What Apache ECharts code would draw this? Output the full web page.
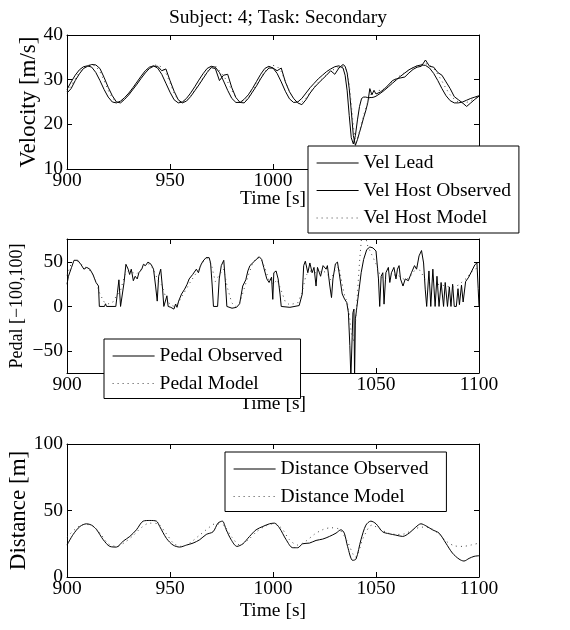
<!DOCTYPE html>
<html>
<head>
<meta charset="utf-8">
<script src="https://cdn.jsdelivr.net/npm/echarts@6/dist/echarts.min.js"></script>
<style>
html, body { margin: 0; padding: 0; background: #fff; }
#chart { width: 570px; height: 630px; }
</style>
</head>
<body>
<div id="chart"></div>
<script>
var FONT = 'Liberation Serif';

// sample times helper (x positions only)
function steps(a, b, d) { var out = []; for (var t = a; t <= b + 1e-9; t += d) out.push(t); return out; }

// ---- velocity panel ----
var tVel = steps(900, 1034, 2).concat(steps(1035, 1050, 1), steps(1052, 1100, 2));
var velLead = [
  27.8, 29.5, 31.0, 32.2, 32.9, 33.1, 32.8, 31.6, 29.8, 27.8,
  26.1, 25.0, 24.8, 25.2, 26.0, 27.0, 28.2, 29.5, 30.8, 32.0,
  32.8, 33.1, 32.6, 31.2, 29.2, 27.2, 25.5, 24.8, 25.0, 25.8,
  27.0, 28.4, 29.9, 31.3, 32.5, 33.0, 32.8, 31.6, 29.7, 27.6,
  25.8, 24.9, 24.9, 25.6, 26.6, 28.0, 29.6, 31.2, 32.5, 33.0,
  32.6, 31.4, 29.5, 27.4, 25.7, 24.9, 25.0, 25.8, 27.0, 28.2,
  29.2, 30.2, 31.0, 31.8, 32.4, 32.9, 33.1, 32.6,
  31.0, 27.5, 22.0, 17.0, 15.6, 17.5, 21.0, 24.0, 25.8, 26.1, 26.1, 26.0, 26.0, 26.0, 26.1, 26.3,
  26.9, 27.6, 28.4, 29.2, 30.0, 30.8, 31.5, 32.2, 32.7, 33.1,
  33.3, 33.2, 32.6, 31.4, 29.8, 28.0, 26.4, 25.3, 24.8, 24.8,
  25.0, 25.4, 25.8, 26.1, 26.4
];
var velHostObs = [
  27.0, 28.0, 29.8, 31.3, 32.5, 33.0, 33.4, 33.3, 32.5, 30.5,
  28.3, 26.4, 25.0, 24.8, 25.6, 26.6, 27.8, 29.0, 30.3, 31.5,
  32.5, 33.0, 33.0, 32.0, 32.4, 29.8, 27.4, 25.5, 24.8, 25.2,
  26.2, 27.5, 28.8, 30.2, 31.6, 32.7, 32.5, 29.8, 31.0, 31.2,
  28.2, 26.0, 24.9, 24.8, 25.8, 27.2, 28.6, 30.2, 31.6, 32.6,
  32.6, 32.0, 32.6, 29.5, 27.3, 25.8, 24.8, 24.4, 25.5, 27.0,
  28.2, 29.2, 30.1, 31.0, 32.0, 31.2, 32.6, 33.4,
  33.0, 31.5, 28.0, 23.0, 17.5, 15.3, 16.6, 18.2, 19.8, 21.5, 23.0, 24.8, 28.0, 26.6, 27.6, 26.8,
  27.2, 27.9, 28.8, 29.8, 30.2, 30.4, 30.6, 31.5, 32.3, 32.8,
  33.0, 34.4, 33.0, 32.8, 31.6, 31.0, 29.5, 28.0, 26.2, 25.5,
  24.8, 24.0, 24.8, 25.6, 26.3
];
var velHostModel = [
  27.3, 28.6, 30.2, 31.6, 32.6, 33.2, 33.4, 33.0, 31.8, 29.8,
  27.6, 25.9, 25.0, 24.9, 25.6, 26.6, 27.9, 29.2, 30.5, 31.7,
  32.6, 33.2, 33.3, 32.8, 31.5, 29.3, 27.0, 25.4, 24.9, 25.3,
  26.3, 27.6, 29.0, 30.4, 31.8, 32.8, 33.1, 32.0, 30.8, 29.5,
  27.6, 25.9, 25.0, 25.1, 26.0, 27.4, 28.9, 30.4, 31.8, 32.8,
  33.2, 33.0, 31.8, 29.6, 27.4, 25.8, 25.0, 25.0, 25.9, 27.2,
  28.4, 29.4, 30.3, 31.1, 31.9, 32.4, 32.8, 33.0,
  32.8, 31.8, 29.0, 24.5, 19.5, 16.5, 16.8, 18.5, 20.3, 22.0, 23.6, 25.0, 26.2, 27.0, 27.4, 27.6,
  27.6, 28.0, 28.7, 29.5, 30.3, 31.0, 31.6, 32.2, 32.7, 33.1,
  33.4, 33.6, 33.3, 32.5, 31.2, 29.7, 28.0, 26.6, 25.6, 25.0,
  24.8, 24.9, 25.3, 25.8, 26.2
];

// ---- pedal panel ----
var tPedalObs = [
  900, 900.7, 902.2, 903.4, 905.2, 906.7, 908.2, 909.6, 911.1, 912.6,
  914.1, 915.3, 915.7, 918.2, 918.7, 919.2, 923.7, 924.5, 925.2, 926,
  926.7, 927.7, 928.6, 929.7, 930.4, 931.2, 932.2, 933.1, 934.1, 934.9,
  936.3, 937.1, 938.1, 939.3, 940.8, 942, 943, 943.8, 944.5, 945.5,
  946.4, 947, 947.8, 948.5, 949.1, 950.4, 951.9, 952.7, 953.4, 954.2,
  955.6, 957.1, 958.3, 959.3, 960.1, 961, 961.9, 962.8, 963.8, 964.8,
  966, 967.5, 969, 969.7, 970.5, 971.1, 973.1, 973.9, 974.9, 976.1,
  976.9, 977.6, 978.2, 980.1, 982.3, 983.8, 985.3, 986.8, 987.8, 988.8,
  991, 993.3, 994.5, 995.5, 997, 998.1, 999.3, 999.9, 1000.4, 1001.5,
  1002.5, 1003.4, 1004, 1008.2, 1012.7, 1014.2, 1014.9, 1015.7, 1016.9, 1017.9,
  1019, 1019.9, 1020.9, 1021.6, 1023.1, 1024.3, 1025.8, 1026.4, 1027.6, 1028.4,
  1029.1, 1030.3, 1031.3, 1032.1, 1033.6, 1034.8, 1035.8, 1036.6, 1037.3, 1037.8,
  1038.4, 1038.8, 1039.3, 1039.6, 1040, 1040.7, 1041.8, 1042.8, 1044, 1045.5,
  1047, 1048.5, 1050, 1051.2, 1051.8, 1052.5, 1053.3, 1053.9, 1054.8, 1056,
  1056.7, 1057.5, 1058.7, 1059.7, 1060.4, 1061.2, 1061.9, 1063.1, 1064.2, 1065.7,
  1067.2, 1068.7, 1069.7, 1070.9, 1072.1, 1073.1, 1073.9, 1074.6, 1075.7, 1076.6,
  1077.6, 1078.7, 1079.6, 1080.6, 1081.6, 1082.8, 1083.6, 1084.7, 1085.6, 1086.4,
  1087.2, 1088, 1089, 1089.8, 1090.5, 1091.5, 1092.3, 1093.5, 1095, 1096.5,
  1098, 1099, 1099.6, 1100
];
var pedalObs = [
  25, 34, 44, 52, 52, 47.5, 42, 44, 42, 36,
  27, 23, 0, 0, 3, 0, 0, 16, 30, 0,
  0, 27, 47.5, 42, 36, 42, 29, 34, 31, 38,
  42, 47.5, 46, 50, 47.5, 42, 23, 6, 34, 42,
  19.5, 0, 1, 12, 0, -1, -3, 2.6, -1, 6,
  14, 19.5, 25, 31, 29, 36, 34, 42, 38, 46,
  51, 55, 55, 49, 23, 0, 0, 31, 46, 52,
  27, 0, -1, -2, -1, 3, 23, 30, 40, 46,
  51, 56, 53, 44, 31, 27, 33, 8, 38, 40,
  31, 14, 0, -1, 1, 14, 46, 51, 38, 49,
  38, 44, 23, 44, 34, 46, 42, 46, 23, 10,
  31, 48, 50, 38, 14, 8, 4.5, -7, -44, -80,
  -80, -7, -3, -80, -14, -1, 19.5, 38, 53, 64,
  67, 66, 62.5, 31, 0, 34, 38, 2.6, 38, 44,
  27, 38, 44, 31, 42, 46, 31, 23, 31, 29,
  38, 46, 42, 57, 63, 49, 19.5, 0, 40, 0,
  42, 0, 34, 0, 27, 0, 27, 0, 22, 0,
  25, 0, 0, 20, 2, 24, 5, 28, 33, 40,
  47, 49, 20, 0
];
var tPedalModel = steps(900, 1034, 2).concat(steps(1035, 1046, 1), steps(1048, 1100, 2));
var pedalModel = [
  35, 48, 52, 50, 45, 43, 38, 28, 14, 5,
  3, 4, 12, 18, 35, 40, 38, 37, 42, 47,
  48, 42, 30, 24, 10, 2, 0, 4, 12, 20,
  28, 35, 42, 50, 54, 48, 28, 36, 42, 20,
  4, 0, 5, 20, 35, 48, 55, 54, 44, 30,
  25, 30, 18, 5, 2, 3, 4, 15, 35, 40,
  38, 38, 40, 38, 30, 40, 45, 20,
  10, 5, -8, -30, -40, -20, 15, 50, 78, 82, 78, 68,
  58, 48, 35, 30, 32, 35, 36, 33, 30, 32,
  38, 45, 38, 30, 28, 26, 25, 24, 23, 22,
  22, 24, 28, 32, 38, 42, 44
];

// ---- distance panel ----
var tDistObs = [
  900, 903, 906.3, 909.5, 911.9, 914.4, 917.6, 920.8, 924, 927.3,
  930.5, 933.7, 937, 940.2, 943.4, 945, 948.3, 951.5, 954.7, 958,
  961.2, 964.4, 967.6, 970.9, 973.3, 975.4, 977.3, 979.7, 982.5, 985.4,
  988.6, 991.8, 995.1, 998.3, 1000.7, 1003.1, 1006.4, 1009.6, 1012, 1014.4,
  1017.7, 1020.9, 1024.1, 1027.4, 1030.6, 1033, 1034.6, 1036.2, 1038.7, 1040.3,
  1042.7, 1045.1, 1047.5, 1050, 1053.2, 1056.4, 1059.6, 1062.9, 1066.1, 1069.3,
  1071.8, 1074.2, 1077.4, 1080.6, 1083.9, 1087.1, 1090.3, 1092.7, 1095.2, 1097.6,
  1100
];
var distObs = [
  24, 32, 38, 40, 39, 35.5, 28, 23, 22.5, 27,
  30.5, 35.5, 42, 42.5, 42, 38, 29, 24, 22.5, 24,
  25.5, 28, 32, 34, 40.5, 42, 35.5, 28, 23, 25,
  30.5, 35.5, 38, 40, 40.5, 37, 28, 22, 22, 25,
  25.5, 27.5, 28.5, 30.5, 33, 35.5, 33, 23, 12.5, 13.5,
  28, 39, 42, 40, 34, 32.5, 31.5, 30.5, 33, 37.5,
  40, 38.5, 35.5, 33, 25.5, 18, 13.5, 12, 14, 15.5,
  16
];
var tDistModel = steps(900, 1100, 4);
var distModel = [
  30, 36, 39.5, 39, 33, 25, 23, 26, 31, 37,
  40.5, 40, 33, 25, 23, 26, 31, 36, 40, 39,
  30, 24, 28, 34, 38, 40, 37, 28, 24, 27,
  32, 35.5, 37, 36, 27, 15, 30, 39, 36, 33,
  32, 32.5, 35.5, 37.5, 37, 33, 27, 23.5, 23, 24,
  25.5
];

function pairs(ts, vs) { return ts.map(function (t, i) { return [t, vs[i]]; }); }

var chart = echarts.init(document.getElementById('chart'));

var txt = { color: '#000', fontFamily: FONT, fontSize: 19.5 };
var grids = [
  { left: 67, top: 35, width: 412, height: 134, outerBoundsMode: 'none', containLabel: false },
  { left: 67, top: 239, width: 412, height: 134, outerBoundsMode: 'none', containLabel: false },
  { left: 67, top: 444, width: 412, height: 133, outerBoundsMode: 'none', containLabel: false }
];

function xAxis(gi, pos, nameGap) {
  var main = pos === 'bottom';
  return {
    gridIndex: gi, type: 'value', position: pos, min: 900, max: 1100, interval: 50,
    axisLine: { onZero: false, lineStyle: { color: '#000', width: 1 } },
    axisTick: { inside: true, length: 5, lineStyle: { color: '#000' } },
    splitLine: { show: false },
    axisLabel: main ? Object.assign({ margin: 2, formatter: function (v) { return String(v); } }, txt) : { show: false },
    name: main ? 'Time [s]' : '', nameLocation: 'middle', nameGap: nameGap || 0, nameMoveOverlap: false,
    nameTextStyle: txt
  };
}
function yAxis(gi, pos, min, max, interval, name, nameSize, nameGap, custom) {
  var main = pos === 'left';
  var ax = {
    gridIndex: gi, type: 'value', position: pos, min: min, max: max,
    axisLine: { onZero: false, lineStyle: { color: '#000', width: 1 } },
    axisTick: { inside: true, length: 5, lineStyle: { color: '#000' } },
    splitLine: { show: false },
    axisLabel: main ? Object.assign({ margin: 4, formatter: function (v) { return String(v).replace('-', '\u2212'); } }, txt) : { show: false },
    name: main ? name : '', nameLocation: 'middle', nameGap: nameGap || 0, nameMoveOverlap: false,
    nameTextStyle: Object.assign({}, txt, { fontSize: nameSize || 19.5 })
  };
  if (custom) {
    ax.axisTick.customValues = custom;
    if (main) ax.axisLabel.customValues = custom;
  } else {
    ax.interval = interval;
  }
  return ax;
}

function line(name, gi, data, dotted, smooth) {
  return {
    name: name, type: 'line', xAxisIndex: 2 * gi, yAxisIndex: 2 * gi,
    data: data, showSymbol: false, symbol: 'none', smooth: smooth || false, clip: true,
    lineStyle: dotted ? { color: '#444', width: 1, type: [1, 4] } : { color: '#000', width: 1 },
    itemStyle: { color: '#000' },
    animation: false
  };
}

function legend(names, left, top, padRight) {
  return {
    data: names, orient: 'vertical', left: left, top: top,
    backgroundColor: '#fff', borderColor: '#000', borderWidth: 1,
    padding: [7, padRight, 5, 8], itemGap: 7.5, itemWidth: 42, itemHeight: 12,
    itemStyle: { opacity: 0 },
    lineStyle: { width: 1.2 },
    textStyle: txt, inactiveColor: '#000'
  };
}

var pedalTicks = [-50, 0, 50];

chart.setOption({
  backgroundColor: '#fff',
  animation: false,
  title: {
    text: 'Subject: 4; Task: Secondary', left: 273, top: 3, textAlign: 'center',
    textStyle: { color: '#000', fontFamily: FONT, fontSize: 19.5, fontWeight: 'normal' }
  },
  grid: grids,
  xAxis: [xAxis(0, 'bottom', 20), xAxis(0, 'top'), xAxis(1, 'bottom', 21), xAxis(1, 'top'), xAxis(2, 'bottom', 24), xAxis(2, 'top')],
  yAxis: [
    yAxis(0, 'left', 10, 40, 10, 'Velocity [m/s]', 23, 27), yAxis(0, 'right', 10, 40, 10, ''),
    yAxis(1, 'left', -75, 76, null, 'Pedal [\u2212100,100]', 18, 41, pedalTicks), yAxis(1, 'right', -75, 76, null, '', 0, 0, pedalTicks),
    yAxis(2, 'left', 0, 100, 50, 'Distance [m]', 23, 37), yAxis(2, 'right', 0, 100, 50, '')
  ],
  legend: [
    legend(['Vel Lead', 'Vel Host Observed', 'Vel Host Model'], 308, 146, 8),
    legend(['Pedal Observed', 'Pedal Model'], 104, 339, 18),
    legend(['Distance Observed', 'Distance Model'], 225, 452, 18)
  ],
  series: [
    line('Vel Lead', 0, pairs(tVel, velLead)),
    line('Vel Host Observed', 0, pairs(tVel, velHostObs)),
    line('Vel Host Model', 0, pairs(tVel, velHostModel), true),
    line('Pedal Observed', 1, pairs(tPedalObs, pedalObs)),
    line('Pedal Model', 1, pairs(tPedalModel, pedalModel), true),
    line('Distance Observed', 2, pairs(tDistObs, distObs), false, 0.3),
    line('Distance Model', 2, pairs(tDistModel, distModel), true, 0.3)
  ]
});
</script>
</body>
</html>
